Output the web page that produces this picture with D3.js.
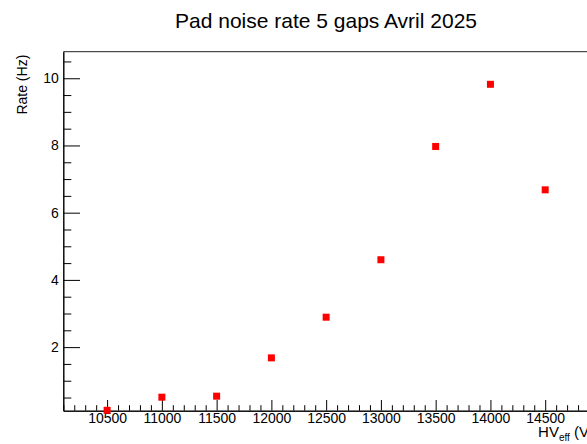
<!DOCTYPE html>
<html>
<head>
<meta charset="utf-8">
<script src="https://cdn.jsdelivr.net/npm/d3@7/dist/d3.min.js"></script>
<style>
  html, body { margin: 0; padding: 0; background: #fff; }
  svg { display: block; font-family: "Liberation Sans", Arial, Helvetica, sans-serif; }
</style>
</head>
<body>
<svg id="chart" width="587" height="444"></svg>
<script>
// Effective high voltage (V) and measured pad noise rate (Hz)
const hvEff = [10500, 11000, 11500, 12000, 12500, 13000, 13500, 14000, 14500];
const rateHz = [0.12, 0.51, 0.54, 1.68, 2.89, 4.60, 7.97, 9.82, 6.68];

const xMajorTicks = [10500, 11000, 11500, 12000, 12500, 13000, 13500, 14000, 14500];
const yMajorTicks = [2, 4, 6, 8, 10];

const titleText = "Pad noise rate 5 gaps Avril 2025";
const yTitleText = "Rate (Hz)";

const svg = d3.select("#chart");

// Frame geometry (right edge runs just past the canvas)
const frame = { left: 63.3, top: 51.7, right: 589, bottom: 410.7 };

// Axis ranges padded like a ROOT TGraph: 10% of the span on x,
// and a floor at 90% of the minimum on y since all rates are positive.
const xMin = d3.min(hvEff), xMax = d3.max(hvEff);
const yMin = d3.min(rateHz), yMax = d3.max(rateHz);
const dx = 0.1 * (xMax - xMin), dy = 0.1 * (yMax - yMin);

const x = d3.scaleLinear()
  .domain([xMin - dx, xMax + dx])
  .range([frame.left, frame.right]);

const y = d3.scaleLinear()
  .domain([0.9 * yMin, yMax + dy])
  .range([frame.bottom, frame.top]);

// Minor tick positions
const xMinorTicks = d3.range(10100, 14901, 100).filter(v => v % 500 !== 0);
const yMinorTicks = d3.range(0.5, 10.76, 0.5).filter(v => v % 2 !== 0);

// Frame top border
svg.append("line")
  .attr("x1", frame.left).attr("x2", frame.right)
  .attr("y1", frame.top).attr("y2", frame.top)
  .attr("stroke", "#222").attr("stroke-width", 1);

// X axis: minor and major ticks drawn inward
svg.append("g").attr("transform", `translate(0,${frame.bottom})`)
  .call(d3.axisBottom(x).tickValues(xMinorTicks).tickSize(-5.5).tickSizeOuter(0).tickFormat(""));
svg.append("g").attr("transform", `translate(0,${frame.bottom})`)
  .call(d3.axisBottom(x).tickValues(xMajorTicks).tickSize(-10.7).tickSizeOuter(0)
    .tickPadding(2.5).tickFormat(d3.format("d")));

// Y axis: minor and major ticks drawn inward
svg.append("g").attr("transform", `translate(${frame.left},0)`)
  .call(d3.axisLeft(y).tickValues(yMinorTicks).tickSize(-8).tickSizeOuter(0).tickFormat(""));
svg.append("g").attr("transform", `translate(${frame.left},0)`)
  .call(d3.axisLeft(y).tickValues(yMajorTicks).tickSize(-16.7).tickSizeOuter(0)
    .tickPadding(4.6).tickFormat(d3.format("d")));

svg.selectAll(".domain").attr("stroke", "#000").attr("stroke-width", 1);
svg.selectAll(".tick line").attr("stroke", "#000").attr("stroke-width", 1);
svg.selectAll(".tick text")
  .attr("fill", "#000")
  .style("font-size", "14px")
  .style("font-family", "'Liberation Sans', Arial, Helvetica, sans-serif");

// Data markers: filled red squares
const ms = 7;
svg.append("g").selectAll("rect")
  .data(hvEff.map((v, i) => ({ hv: v, rate: rateHz[i] })))
  .join("rect")
  .attr("x", d => x(d.hv) - ms / 2)
  .attr("y", d => y(d.rate) - ms / 2)
  .attr("width", ms).attr("height", ms)
  .attr("fill", "#ff0000");

// Title
svg.append("text")
  .attr("x", 326).attr("y", 28)
  .attr("text-anchor", "middle")
  .style("font-size", "21px")
  .attr("fill", "#000")
  .text(titleText);

// Y axis title, aligned to the top of the axis
svg.append("text")
  .attr("transform", `translate(27,${frame.top + 3}) rotate(-90)`)
  .attr("text-anchor", "end")
  .style("font-size", "14px")
  .attr("fill", "#000")
  .text(yTitleText);

// X axis title with subscript, aligned to the right end of the axis
const xt = svg.append("text")
  .attr("x", 594).attr("y", 437)
  .attr("text-anchor", "end")
  .style("font-size", "15px")
  .attr("fill", "#000");
xt.append("tspan").text("HV");
xt.append("tspan").attr("dy", 3.5).style("font-size", "10px").text("eff");
xt.append("tspan").attr("dy", -3.5).text(" (V)");
</script>
</body>
</html>
